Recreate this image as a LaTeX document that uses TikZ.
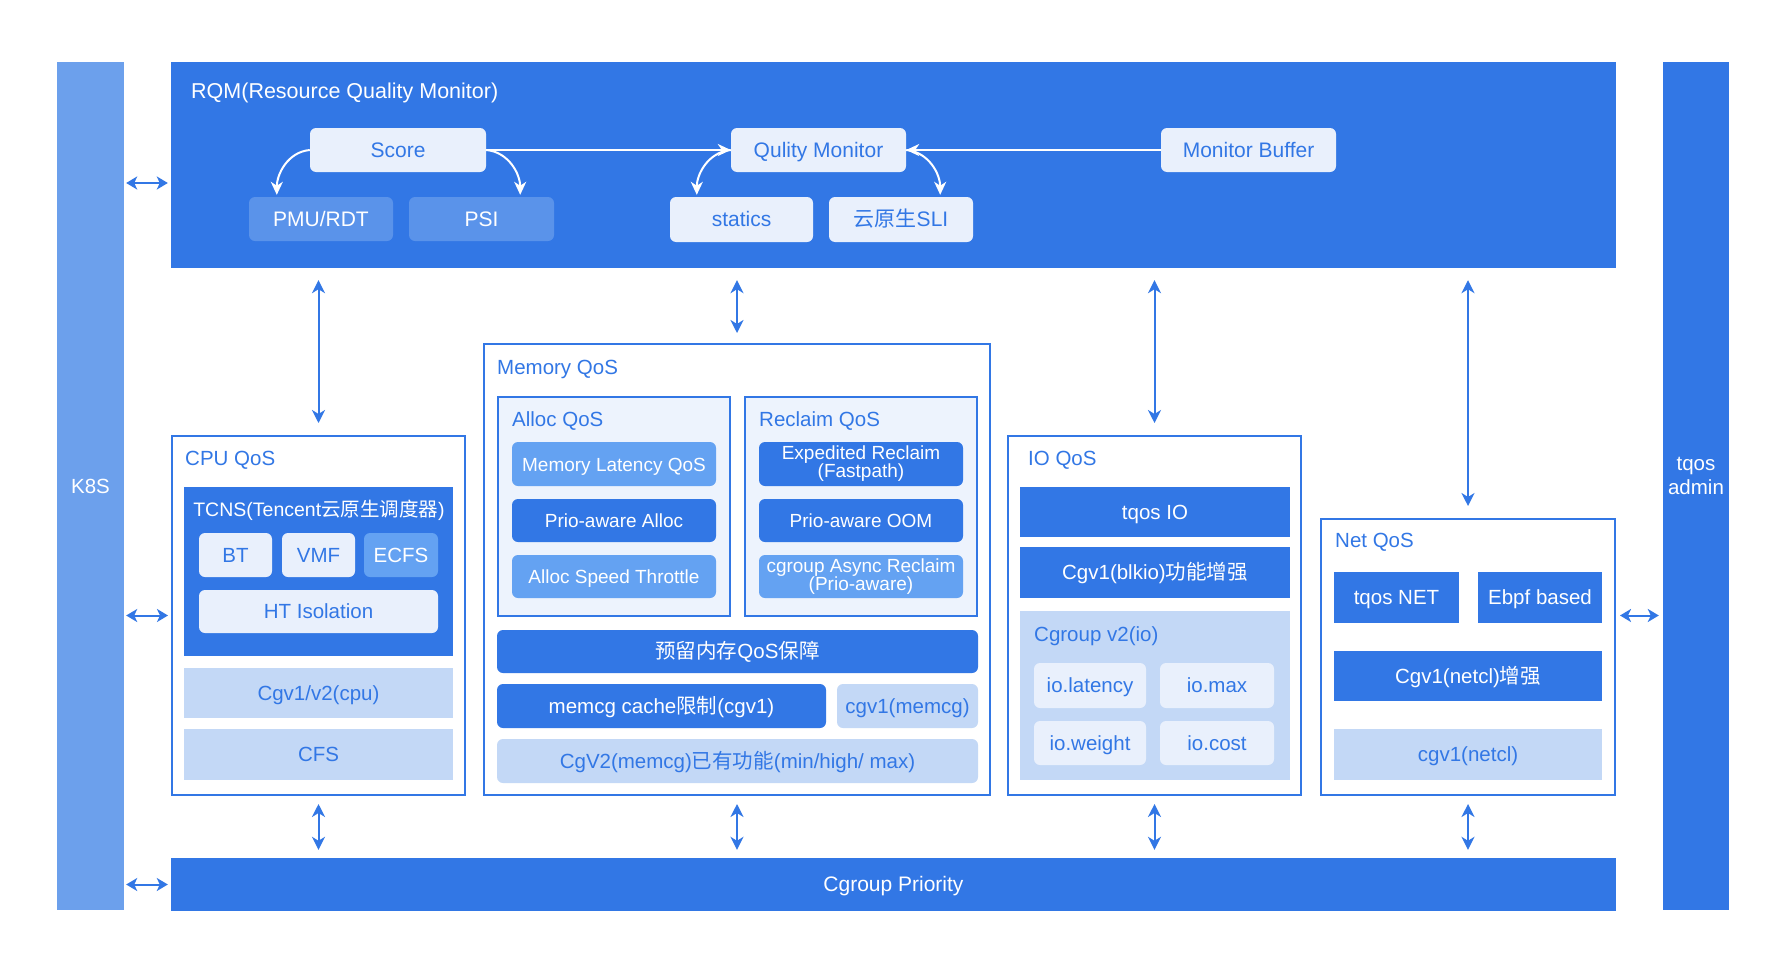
\documentclass[tikz,border=0pt]{standalone}
\usepackage{fontspec}
\setmainfont{Liberation Sans}
\newfontfamily\cjk{Noto Sans CJK SC}
\usepackage{tikz}
\usetikzlibrary{arrows.meta,positioning,calc}
\definecolor{tqMain}{RGB}{50,119,229}
\definecolor{tqSide}{RGB}{108,160,236}
\definecolor{tqSoft}{RGB}{90,147,234}
\definecolor{tqMid}{RGB}{100,162,242}
\definecolor{tqLight}{RGB}{233,240,252}
\definecolor{tqPale}{RGB}{195,216,246}
\definecolor{tqBack}{RGB}{237,243,253}

\begin{document}
\begin{tikzpicture}[x=1pt, y=-1pt,
  font=\fontsize{20.5}{22}\selectfont,
  n/.style={inner sep=0pt, align=center, minimum height=44pt, text height=14.8pt, text depth=0pt},
  two/.style={text height=, text depth=},
  dk/.style={n, fill=tqMain, text=white},
  md/.style={n, fill=tqMid, text=white},
  sf/.style={n, fill=tqSoft, text=white},
  lt/.style={n, fill=tqLight, text=tqMain},
  pl/.style={n, fill=tqPale, text=tqMain},
  rc/.style={rounded corners=6pt},
  rq/.style={rc, font=\fontsize{21}{22}\selectfont},
  mm/.style={rc, minimum width=204pt, font=\fontsize{19}{18}\selectfont},
  grp/.style={draw=tqMain, line width=2pt, fill=white, inner sep=0pt},
  sub/.style={draw=tqMain, line width=1.5pt, fill=tqBack, inner sep=0pt},
  ttl/.style={anchor=west, inner sep=0pt, text=tqMain},
  wa/.style={-{Stealth[length=13pt,width=12pt,inset=4pt]}, draw=white, line width=2pt},
  la/.style={{Stealth[length=13pt,width=13pt,inset=4pt]}-{Stealth[length=13pt,width=13pt,inset=4pt]}, draw=tqMain, line width=2pt},
  ha/.style={{Stealth[length=11pt,width=13pt,inset=3pt]}-{Stealth[length=11pt,width=13pt,inset=3pt]}, draw=tqMain, line width=2pt, shorten <=2pt, shorten >=3pt}
]
\useasboundingbox (0,0) rectangle (1786,972);
\fill[white] (0,0) rectangle (1786,972);

\node[n, fill=tqSide, text=white, minimum width=67pt, minimum height=848pt] (k8s) at (90.5,486) {K8S};
\node[dk, two, minimum width=66pt, minimum height=848pt, font=\fontsize{20.5}{24}\selectfont] (admin) at (1696,486) {tqos\\admin\\[-4pt]};
\node[dk, minimum width=1445pt, minimum height=206pt] (rqm) at (893.5,165) {};
\node[dk, minimum width=1445pt, minimum height=53pt, font=\fontsize{21}{22}\selectfont] (prio) at (893.5,884.5) {Cgroup Priority};

\node[ttl, text=white, font=\fontsize{21.5}{22}\selectfont] (rqmt) at (191,93) {RQM(Resource Quality Monitor)};
\node[lt, rq, minimum width=176pt] (score) at (398,150) {Score};
\node[sf, rq, minimum width=144pt] (pmu) at (321,219) {PMU/RDT};
\node[sf, rq, minimum width=145pt] (psi) at (481.5,219) {PSI};
\node[lt, rq, minimum width=175pt] (qm) at (818.5,150) {Qulity Monitor};
\node[lt, rq, minimum width=143pt, minimum height=45pt] (stat) at (741.5,219.5) {statics};
\node[lt, rq, minimum width=144pt, minimum height=45pt] (sli) at (901,219.5) {{\cjk 云原生}SLI};
\node[lt, rq, minimum width=175pt] (mbuf) at (1248.5,150) {Monitor Buffer};
\draw[wa] (score.east) -- (qm.west);
\draw[wa] (mbuf.west) -- (qm.east);
\draw[wa, shorten >=2pt] (score.west) to[out=185,in=90] ([xshift=28pt]pmu.north west);
\draw[wa, shorten >=2pt] (score.east) to[out=-5,in=90] ([xshift=-34pt]psi.north east);
\draw[wa, shorten >=2pt] (qm.west) to[out=185,in=90] ([xshift=27pt]stat.north west);
\draw[wa, shorten >=2pt] (qm.east) to[out=-5,in=90] ([xshift=-33pt]sli.north east);

\node[grp, minimum width=293pt, minimum height=359pt] (cpu) at (318.5,615.5) {};
\node[ttl] (cput) at (185,460) {CPU QoS};
\node[dk, minimum width=269pt, minimum height=169pt] (tcns) at (318.5,571.5) {};
\node[inner sep=0pt, text=white, font=\fontsize{19.5}{20}\selectfont] (tcnst) at (319,510) {TCNS(Tencent{\cjk 云原生调度器})};
\node[lt, rc, minimum width=73pt] (bt) at (235.5,555) {BT};
\node[lt, rc, minimum width=73pt] (vmf) at (318.5,555) {VMF};
\node[md, rc, minimum width=74pt] (ecfs) at (401,555) {ECFS};
\node[lt, rc, minimum width=239pt, minimum height=43pt] (ht) at (318.5,611.5) {HT Isolation};
\node[pl, minimum width=269pt, minimum height=50pt] (cgcpu) at (318.5,693) {Cgv1/v2(cpu)};
\node[pl, minimum width=269pt, minimum height=51pt] (cfs) at (318.5,754.5) {CFS};

\node[grp, minimum width=506pt, minimum height=451pt] (mem) at (737,569.5) {};
\node[ttl] (memt) at (497,369) {Memory QoS};
\node[sub, minimum width=232pt, minimum height=219pt] (alloc) at (614,506.5) {};
\node[ttl] (alloct) at (512,421) {Alloc QoS};
\node[sub, minimum width=232pt, minimum height=219pt] (recl) at (861,506.5) {};
\node[ttl] (reclt) at (759,421) {Reclaim QoS};
\node[md, mm] (mlat) at (614,464) {Memory Latency QoS};
\node[dk, mm, minimum height=43pt] (palloc) at (614,520.5) {Prio-aware Alloc};
\node[md, mm, minimum height=43pt] (thr) at (614,576.5) {Alloc Speed Throttle};
\node[dk, mm, two] (expd) at (861,464) {Expedited Reclaim\\(Fastpath)};
\node[dk, mm, minimum height=43pt] (oom) at (861,520.5) {Prio-aware OOM};
\node[md, mm, two, minimum height=43pt] (async) at (861,576.5) {cgroup Async Reclaim\\(Prio-aware)};
\node[dk, rc, minimum width=481pt, minimum height=43pt] (resv) at (737.5,651.5) {{\cjk 预留内存}QoS{\cjk 保障}};
\node[dk, rc, minimum width=329pt] (cache) at (661.5,706) {memcg cache{\cjk 限制}(cgv1)};
\node[pl, rc, minimum width=141pt] (cgonem) at (907.5,706) {cgv1(memcg)};
\node[pl, rc, minimum width=481pt] (cgtwom) at (737.5,761) {CgV2(memcg){\cjk 已有功能}(min/high/ max)};

\node[grp, minimum width=293pt, minimum height=359pt] (io) at (1154.5,615.5) {};
\node[ttl] (iot) at (1028,460) {IO QoS};
\node[dk, minimum width=270pt, minimum height=50pt] (tio) at (1155,512) {tqos IO};
\node[dk, minimum width=270pt, minimum height=51pt] (blk) at (1155,572.5) {Cgv1(blkio){\cjk 功能增强}};
\node[pl, minimum width=270pt, minimum height=169pt] (cgtwoio) at (1155,695.5) {};
\node[ttl] (cgtwoiot) at (1034,636) {Cgroup v2(io)};
\node[lt, rc, minimum width=112pt, minimum height=45pt] (iolat) at (1090,685.5) {io.latency};
\node[lt, rc, minimum width=114pt, minimum height=45pt] (iomax) at (1217,685.5) {io.max};
\node[lt, rc, minimum width=112pt] (iowt) at (1090,743) {io.weight};
\node[lt, rc, minimum width=114pt] (iocost) at (1217,743) {io.cost};

\node[grp, minimum width=294pt, minimum height=276pt] (net) at (1468,657) {};
\node[ttl] (nett) at (1335,542) {Net QoS};
\node[dk, minimum width=125pt, minimum height=51pt] (tnet) at (1396.5,597.5) {tqos NET};
\node[dk, minimum width=124pt, minimum height=51pt] (ebpf) at (1540,597.5) {Ebpf based};
\node[dk, minimum width=268pt, minimum height=50pt] (netcl) at (1468,676) {Cgv1(netcl){\cjk 增强}};
\node[pl, minimum width=268pt, minimum height=51pt] (cgonen) at (1468,754.5) {cgv1(netcl)};

\draw[la, shorten <=12pt, shorten >=12pt] (rqm.south -| cpu.north) -- (cpu.north);
\draw[la, shorten <=12pt, shorten >=10pt] (rqm.south -| mem.north) -- (mem.north);
\draw[la, shorten <=12pt, shorten >=12pt] (rqm.south -| io.north) -- (io.north);
\draw[la, shorten <=12pt, shorten >=12pt] (rqm.south -| net.north) -- (net.north);
\draw[la, shorten <=8pt, shorten >=8pt] (cpu.south) -- (cpu.south |- prio.north);
\draw[la, shorten <=8pt, shorten >=8pt] (mem.south) -- (mem.south |- prio.north);
\draw[la, shorten <=8pt, shorten >=8pt] (io.south) -- (io.south |- prio.north);
\draw[la, shorten <=8pt, shorten >=8pt] (net.south) -- (net.south |- prio.north);

\coordinate (krq) at (0,183);
\draw[ha] (k8s.east |- krq) -- (rqm.west |- krq);
\draw[ha] (k8s.east |- cpu.west) -- (cpu.west);
\draw[ha] (k8s.east |- prio.west) -- (prio.west);
\draw[ha, shorten <=4pt, shorten >=4pt] (net.east |- cpu.east) -- (admin.west |- cpu.east);
\end{tikzpicture}
\end{document}
